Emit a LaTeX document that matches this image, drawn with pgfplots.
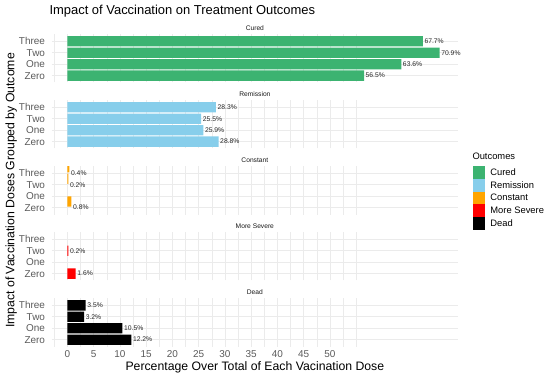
\documentclass[border=0pt]{standalone}
\usepackage{pgfplots}
\pgfplotsset{compat=1.18}
\usepackage{fontspec}
\setmainfont{Liberation Sans}
\definecolor{cured}{HTML}{3CB371}
\definecolor{remission}{HTML}{87CEEB}
\definecolor{constant}{HTML}{FFA500}
\definecolor{severe}{HTML}{FF0000}
\definecolor{dead}{HTML}{000000}
\definecolor{gridc}{HTML}{EBEBEB}
\definecolor{tickc}{HTML}{5A5A5A}
\pgfplotsset{
  panel/.style={
    scale only axis, width=406.3bp, height=48bp,
    anchor=north west,
    /pgf/number format/assume math mode=true,
    xmin=-2.97, xmax=74.4, ymin=0.4, ymax=4.6,
    xbar, bar width=0.9,
    ytick={1,2,3,4}, yticklabels={Zero,One,Two,Three},
    xtick={0,5,...,50},
    minor xtick={-2.5,2.5,7.5,12.5,17.5,22.5,27.5,32.5,37.5,42.5,47.5,52.5,55},
    xmajorgrids, xminorgrids, ymajorgrids,
    major grid style={gridc, line width=0.6bp},
    minor grid style={gridc, line width=0.35bp},
    axis line style={draw=none},
    major tick length=0pt, minor tick length=0pt,
    tick style={draw=none},
    xticklabels={},
    yticklabel shift=6.5bp,
    xticklabel shift=3.6bp,
    y tick label style={anchor=east, inner sep=0pt, font=\fontsize{10}{11}\selectfont, text=tickc},
    x tick label style={anchor=north, inner sep=0pt, font=\fontsize{10}{11}\selectfont, text=tickc},
    every axis title/.style={at={(0.5,1)}, anchor=base, yshift=3.9bp, font=\fontsize{6.7}{7}\selectfont, text=black!90},
    nodes near coords={\pgfmathprintnumber[fixed,precision=1,fixed zerofill,assume math mode=true]{\pgfplotspointmeta}\%},
    point meta=x,
    every node near coord/.style={anchor=west, inner sep=0pt, xshift=1.5bp, font=\fontsize{6.8}{7}\selectfont, text=black!85},
    clip=true,
  },
  barst/.style={draw=none, fill=#1},
}
\begin{document}
\begin{tikzpicture}
\path[use as bounding box] (0,0) rectangle (550bp,377bp);
\node[anchor=base west, inner sep=0pt, font=\fontsize{13}{14}\selectfont] at (49.3bp,362bp) {Impact of Vaccination on Treatment Outcomes};

\begin{axis}[panel, at={(51.7bp,342.5bp)}, title={Cured}]
\addplot[barst=cured] coordinates {(56.5,1) (63.6,2) (70.9,3) (67.7,4)};
\end{axis}

\begin{axis}[panel, at={(51.7bp,276.5bp)}, title={Remission}]
\addplot[barst=remission] coordinates {(28.8,1) (25.9,2) (25.5,3) (28.3,4)};
\end{axis}

\begin{axis}[panel, at={(51.7bp,210.5bp)}, title={Constant},
  ylabel={Impact of Vaccination Doses Grouped by Outcome},
  every axis y label/.style={at={(rel axis cs:0,0.5)}, xshift=-37.3bp, rotate=90, anchor=base, font=\fontsize{12.3}{13}\selectfont, text=black},
  legend image code/.code={\fill[#1] (0bp,-6.33bp) rectangle (12.7bp,6.33bp);},
  legend style={at={(rel axis cs:1.0362,1.0)}, anchor=north west, draw=none, fill=none,
    inner sep=0pt, outer sep=0pt, row sep=0pt,
    font=\fontsize{9.4}{10}\selectfont,
    nodes={inner sep=0pt, outer sep=0pt},
    /tikz/every odd column/.append style={column sep=5.0bp}},
  legend cell align=left,
  legend entries={Cured,Remission,Constant,More Severe,Dead}]
\addlegendimage{fill=cured, draw=none}
\addlegendimage{fill=remission, draw=none}
\addlegendimage{fill=constant, draw=none}
\addlegendimage{fill=severe, draw=none}
\addlegendimage{fill=dead, draw=none}
\addplot[barst=constant, forget plot] coordinates {(0.8,1) (0.2,3) (0.4,4)};
\end{axis}

\begin{axis}[panel, at={(51.7bp,144.5bp)}, title={More Severe}]
\addplot[barst=severe] coordinates {(1.6,1) (0.2,3)};
\end{axis}

\begin{axis}[panel, at={(51.7bp,78.5bp)}, title={Dead},
  xticklabels={0,5,10,15,20,25,30,35,40,45,50},
  xlabel={Percentage Over Total of Each Vacination Dose},
  every axis x label/.style={at={(0.5,0)}, anchor=base, yshift=-24.4bp, font=\fontsize{12.3}{13}\selectfont, text=black}]
\addplot[barst=dead] coordinates {(12.2,1) (10.5,2) (3.2,3) (3.5,4)};
\end{axis}

\node[anchor=west, inner sep=0pt, font=\fontsize{9.4}{10}\selectfont] at (472.3bp,221bp) {Outcomes};
\end{tikzpicture}
\end{document}
